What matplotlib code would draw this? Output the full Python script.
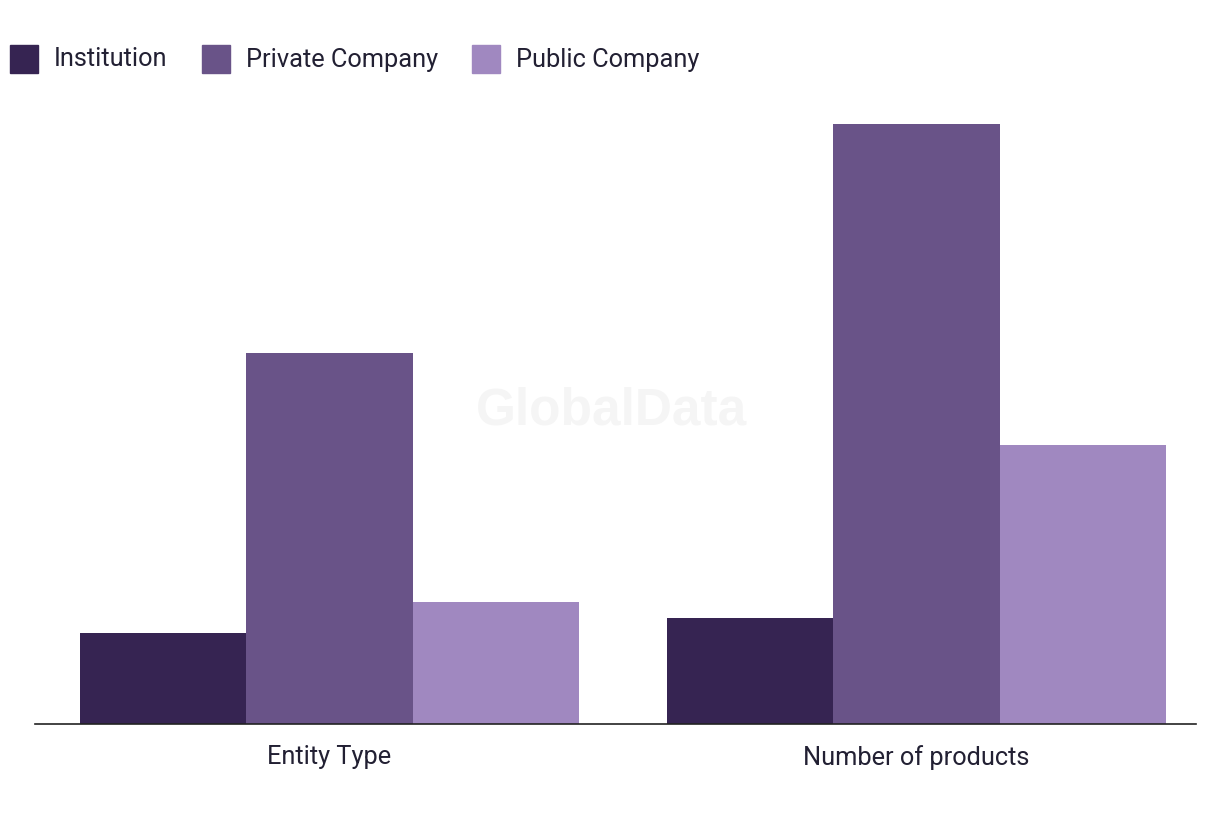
import matplotlib
matplotlib.use("Agg")
import matplotlib.pyplot as plt
from matplotlib.patches import Rectangle
import numpy as np

categories = ["Entity Type", "Number of products"]
series_names = ["Institution", "Private Company", "Public Company"]
institution = [9.0, 10.5]
private_company = [37.0, 59.9]
public_company = [12.1, 27.8]
colors = ["#362452", "#695388", "#a088c0"]

plt.rcParams['font.family'] = ['Roboto', 'DejaVu Sans']
text_color = "#222033"

fig = plt.figure(figsize=(12.2, 8.2), dpi=100)
ax = fig.add_axes([35/1220, 95.5/820, 1161/1220, 624/820])

x = np.arange(len(categories))
w = 166.5/587
for i, (vals, name) in enumerate(zip([institution, private_company, public_company], series_names)):
    ax.bar(x + (i-1)*w, vals, width=w, color=colors[i], label=name, linewidth=0)

ax.set_xlim(-0.5017, 1.476)
ax.set_ylim(0, 62.3)
for s in ["top", "right", "left"]:
    ax.spines[s].set_visible(False)
ax.spines["bottom"].set_color("#222222")
ax.spines["bottom"].set_linewidth(1.2)
ax.set_yticks([])
ax.set_xticks(x)
ax.set_xticklabels(categories, fontsize=18.3, color=text_color)
ax.tick_params(axis="x", length=0, pad=15)

# watermark
fig.text(611/1220, 1-411/820, "GlobalData", fontsize=37, fontweight="bold",
         color="#f5f5f5", ha="center", va="center", family=["Liberation Sans", "DejaVu Sans"], zorder=0)

# legend
xs = [10, 202, 472]
for i, name in enumerate(series_names):
    fig.patches.append(Rectangle((xs[i]/1220, 1-74/820), 28/1220, 28/820,
                                 transform=fig.transFigure, color=colors[i]))
    fig.text((xs[i]+44)/1220, 1-59.5/820, name, fontsize=18.3, color=text_color,
             ha="left", va="center")

fig.savefig("out.png", dpi=100, facecolor="white")
